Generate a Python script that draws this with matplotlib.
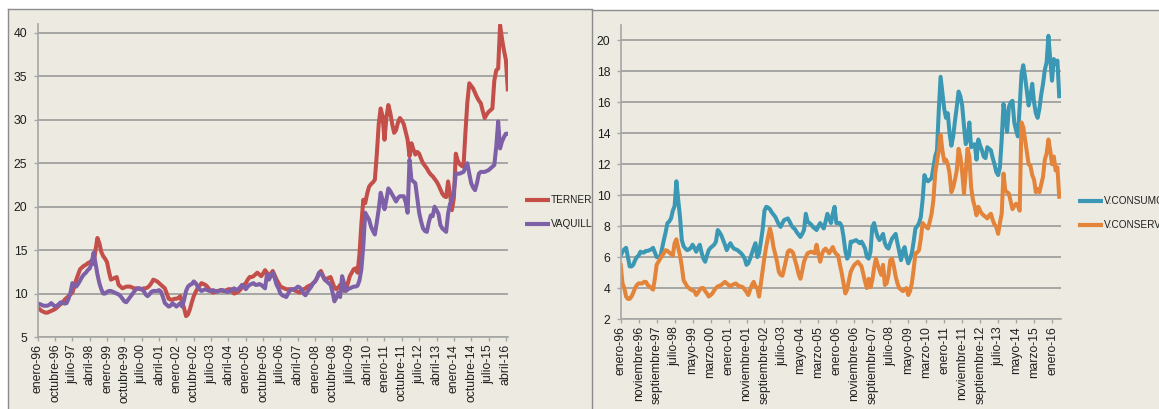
import numpy as np
import matplotlib.pyplot as plt
from matplotlib.lines import Line2D

# monthly prices, enero-96 .. mayo-16 (one row per year)
ternera = [
    8.4, 8.2, 8.0, 7.9, 7.8, 7.8, 7.9, 8.0, 8.1, 8.2, 8.4, 8.6,
    8.8, 9.0, 9.3, 9.5, 9.7, 9.9, 10.1, 10.8, 11.6, 12.2, 12.8, 13.0,
    13.2, 13.3, 13.5, 13.6, 13.8, 13.4, 15.0, 16.4, 15.8, 14.8, 14.3, 14.0,
    13.6, 12.5, 11.6, 11.7, 11.8, 11.9, 11.0, 10.8, 10.6, 10.7, 10.8, 10.8,
    10.8, 10.7, 10.6, 10.6, 10.6, 10.5, 10.5, 10.6, 10.6, 10.7, 10.9, 11.2,
    11.6, 11.5, 11.4, 11.2, 11.0, 10.8, 10.6, 10.0, 9.4, 9.3, 9.3, 9.4,
    9.4, 9.5, 9.7, 9.0, 8.3, 7.4, 7.6, 8.2, 9.0, 9.7, 10.2, 10.6,
    10.9, 11.2, 11.1, 11.0, 10.8, 10.5, 10.3, 10.1, 10.2, 10.3, 10.3, 10.4,
    10.3, 10.3, 10.4, 10.5, 10.5, 10.2, 10.0, 10.1, 10.2, 10.4, 10.7, 11.0,
    11.2, 11.6, 11.9, 11.9, 12.0, 12.2, 12.4, 12.2, 12.0, 12.3, 12.7, 12.4,
    12.0, 12.3, 12.6, 12.1, 11.6, 11.2, 10.8, 10.7, 10.6, 10.5, 10.5, 10.5,
    10.5, 10.4, 10.3, 10.2, 10.1, 10.3, 10.5, 10.6, 10.8, 10.9, 11.0, 11.2,
    11.4, 11.8, 12.3, 12.6, 12.1, 11.6, 11.7, 11.8, 11.9, 11.3, 10.7, 10.5,
    10.7, 11.0, 10.6, 10.3, 10.5, 11.2, 12.0, 12.4, 12.8, 12.9, 12.4, 14.5,
    18.0, 20.8, 20.4, 21.5, 22.3, 22.6, 22.8, 23.1, 26.0, 29.5, 31.3, 30.4,
    27.7, 30.3, 31.7, 30.8, 29.5, 28.5, 28.8, 29.7, 30.2, 29.9, 29.5, 28.6,
    27.7, 25.8, 27.3, 26.6, 26.0, 26.3, 26.1, 25.5, 25.0, 24.7, 24.4, 24.0,
    23.7, 23.5, 23.2, 22.9, 22.5, 22.0, 21.5, 21.2, 21.1, 22.9, 21.5, 19.6,
    21.0, 26.1, 25.3, 24.9, 24.7, 24.6, 28.5, 32.0, 34.2, 33.9, 33.6, 33.1,
    32.6, 32.2, 31.9, 31.0, 30.2, 30.6, 30.9, 31.1, 31.3, 34.5, 35.7, 35.9,
    40.9, 39.3, 38.0, 36.9, 33.5,
]
vaquilla = [
    8.85, 8.8, 8.7, 8.6, 8.6, 8.6, 8.7, 8.9, 8.7, 8.5, 8.6, 8.8,
    9.0, 8.9, 8.85, 8.9, 9.4, 10.1, 11.2, 11.0, 10.8, 11.1, 11.5, 11.9,
    12.2, 12.4, 12.7, 12.9, 13.5, 14.7, 13.5, 12.2, 11.2, 10.5, 10.0, 10.0,
    10.2, 10.3, 10.3, 10.2, 10.1, 10.0, 9.9, 9.7, 9.4, 9.1, 9.0, 9.3,
    9.6, 9.9, 10.2, 10.5, 10.6, 10.6, 10.5, 10.3, 9.9, 9.7, 9.9, 10.2,
    10.3, 10.3, 10.3, 10.4, 10.2, 9.6, 8.9, 8.7, 8.5, 8.6, 8.9, 8.7,
    8.5, 8.7, 8.9, 8.5, 9.3, 10.3, 10.8, 11.0, 11.1, 11.4, 11.2, 10.8,
    10.5, 10.3, 10.4, 10.5, 10.4, 10.3, 10.3, 10.4, 10.3, 10.2, 10.3, 10.4,
    10.4, 10.3, 10.2, 10.2, 10.3, 10.5, 10.6, 10.4, 10.5, 10.7, 11.0, 10.8,
    10.5, 10.8, 11.0, 11.1, 11.2, 11.0, 11.0, 11.1, 11.0, 10.8, 10.6, 12.2,
    11.6, 12.0, 12.4, 11.8, 11.0, 10.6, 10.0, 9.8, 9.7, 9.6, 10.0, 10.4,
    10.5, 10.5, 10.6, 10.8, 10.7, 10.4, 10.0, 9.8, 10.2, 10.5, 10.8, 11.2,
    11.4, 11.8, 12.4, 12.3, 12.0, 11.6, 11.4, 11.2, 11.0, 10.2, 9.1, 9.5,
    10.1, 9.6, 12.0, 11.2, 10.3, 10.5, 10.6, 10.7, 10.8, 10.8, 10.9, 11.5,
    12.8, 15.5, 19.3, 18.9, 18.5, 17.7, 17.2, 16.8, 18.2, 19.7, 21.6, 20.8,
    19.7, 20.8, 22.1, 21.8, 21.4, 21.0, 20.6, 21.0, 21.2, 21.2, 21.2, 20.5,
    19.3, 25.4, 23.1, 22.9, 22.7, 21.0, 19.3, 18.3, 17.5, 17.2, 17.1, 18.2,
    19.0, 18.9, 20.0, 19.6, 19.2, 17.9, 17.5, 17.3, 17.1, 19.2, 20.3, 20.8,
    21.7, 23.8, 23.8, 23.8, 23.9, 24.0, 24.5, 25.0, 23.8, 22.7, 22.2, 21.9,
    22.7, 23.8, 24.0, 24.0, 24.0, 24.1, 24.2, 24.4, 24.6, 24.8, 26.9, 29.8,
    26.7, 27.5, 28.0, 28.4, 28.4,
]
v_consumo = [
    6.1, 6.35, 6.5, 6.6, 6.0, 5.4, 5.4, 5.5, 5.8, 6.0, 6.1, 6.35,
    6.3, 6.3, 6.4, 6.4, 6.45, 6.5, 6.6, 6.3, 6.0, 6.0, 6.0, 6.55,
    7.1, 7.6, 8.2, 8.3, 8.5, 9.0, 9.3, 10.9, 9.7, 8.6, 7.1, 6.7,
    6.55, 6.45, 6.5, 6.6, 6.8, 6.6, 6.35, 6.6, 6.8, 6.3, 5.9, 5.7,
    6.1, 6.45, 6.6, 6.7, 6.8, 7.0, 7.75, 7.6, 7.4, 7.1, 6.8, 6.45,
    6.7, 6.9, 6.7, 6.55, 6.5, 6.45, 6.35, 6.25, 6.1, 5.9, 5.5, 5.6,
    5.9, 6.25, 6.6, 6.9, 6.0, 6.25, 7.0, 7.8, 9.0, 9.25, 9.2, 9.1,
    8.9, 8.75, 8.6, 8.35, 8.1, 7.95, 8.2, 8.4, 8.45, 8.5, 8.3, 8.05,
    7.9, 7.8, 7.6, 7.45, 7.3, 7.5, 7.75, 8.8, 8.3, 8.2, 8.1, 7.95,
    7.85, 7.75, 8.0, 8.2, 8.0, 7.85, 8.3, 8.8, 8.5, 8.2, 8.8, 9.25,
    8.2, 8.2, 8.2, 8.0, 7.3, 6.4, 5.9, 6.1, 7.0, 7.0, 7.05, 7.1,
    7.0, 6.9, 7.0, 6.8, 6.55, 6.0, 5.9, 6.35, 7.95, 8.2, 7.7, 7.3,
    7.1, 7.3, 7.5, 6.9, 6.65, 6.55, 6.9, 7.2, 7.35, 7.5, 6.9, 6.35,
    5.8, 6.4, 6.65, 6.0, 5.6, 5.9, 6.25, 7.0, 7.85, 8.0, 8.2, 8.6,
    9.7, 11.3, 11.0, 10.9, 11.0, 11.1, 11.8, 12.5, 12.9, 15.5, 17.65, 16.6,
    15.6, 15.0, 15.3, 14.0, 13.2, 13.8, 14.8, 15.7, 16.7, 16.4, 15.8, 14.5,
    13.3, 13.6, 14.7, 13.1, 13.2, 13.3, 12.3, 13.6, 13.2, 12.9, 12.5, 12.4,
    13.1, 13.0, 12.9, 12.4, 12.0, 11.5, 11.3, 11.8, 13.6, 15.9, 15.1, 14.1,
    15.7, 16.0, 16.1, 14.7, 14.2, 13.8, 15.7, 17.8, 18.4, 17.65, 16.7, 15.8,
    16.4, 17.2, 16.0, 15.3, 15.0, 15.6, 16.5, 17.2, 18.1, 18.6, 20.3, 18.8,
    17.4, 18.8, 18.5, 18.7, 16.4,
]
v_conserva = [
    5.5, 4.3, 4.0, 3.45, 3.3, 3.3, 3.45, 3.7, 4.0, 4.2, 4.3, 4.3,
    4.3, 4.4, 4.4, 4.2, 4.1, 4.0, 3.9, 4.6, 5.5, 5.7, 5.9, 6.1,
    6.25, 6.45, 6.4, 6.3, 6.2, 6.1, 6.9, 7.15, 6.6, 6.1, 5.4, 4.5,
    4.3, 4.1, 4.0, 3.9, 3.85, 3.8, 3.55, 3.7, 3.9, 4.0, 4.0, 3.8,
    3.65, 3.45, 3.55, 3.65, 3.85, 4.0, 4.1, 4.15, 4.2, 4.3, 4.4, 4.3,
    4.2, 4.1, 4.2, 4.25, 4.3, 4.2, 4.1, 4.1, 4.05, 3.9, 3.75, 3.55,
    3.9, 4.2, 4.4, 4.1, 4.0, 3.45, 4.3, 5.15, 6.0, 6.7, 7.3, 7.85,
    7.4, 6.65, 6.2, 5.7, 5.05, 4.85, 4.8, 5.3, 5.8, 6.35, 6.45, 6.4,
    6.25, 5.8, 5.4, 4.9, 4.6, 5.1, 5.7, 6.0, 6.25, 6.3, 6.35, 6.3,
    6.25, 6.8, 6.2, 5.7, 6.2, 6.45, 6.55, 6.4, 6.25, 6.45, 6.65, 6.35,
    6.2, 6.1, 5.5, 4.95, 4.3, 3.65, 3.9, 4.5, 5.05, 5.3, 5.5, 5.6,
    5.7, 5.55, 5.4, 4.9, 4.4, 4.0, 4.6, 4.05, 4.5, 5.3, 5.9, 5.5,
    5.15, 4.85, 5.5, 4.2, 4.3, 4.85, 5.8, 5.9, 5.4, 4.75, 4.3, 4.0,
    3.9, 3.8, 3.9, 4.0, 3.55, 3.8, 4.3, 5.2, 6.25, 6.3, 6.45, 7.2,
    8.2, 8.05, 7.95, 7.85, 8.3, 8.8, 9.7, 11.4, 12.2, 12.9, 13.9, 12.9,
    12.2, 12.3, 12.0, 11.4, 10.2, 10.5, 11.0, 11.6, 13.0, 12.5, 11.5, 10.1,
    11.5, 13.0, 12.5, 10.5, 9.7, 9.25, 8.7, 9.25, 9.0, 8.8, 8.7, 8.6,
    8.5, 8.7, 8.8, 8.4, 8.1, 7.95, 7.5, 8.2, 8.8, 11.4, 10.3, 10.2,
    10.1, 9.6, 9.1, 9.3, 9.45, 9.3, 9.0, 14.7, 14.4, 13.6, 12.8, 12.0,
    11.9, 11.3, 11.0, 10.2, 10.4, 10.2, 10.7, 11.2, 12.3, 12.7, 13.6, 12.9,
    12.0, 12.5, 11.6, 11.8, 9.9,
]

# category labels shown on the x axes (every 9th / 10th month)
labels_left = [
    'enero-96', 'octubre-96', 'julio-97', 'abril-98', 'enero-99', 'octubre-99',
    'julio-00', 'abril-01', 'enero-02', 'octubre-02', 'julio-03', 'abril-04',
    'enero-05', 'octubre-05', 'julio-06', 'abril-07', 'enero-08', 'octubre-08',
    'julio-09', 'abril-10', 'enero-11', 'octubre-11', 'julio-12', 'abril-13',
    'enero-14', 'octubre-14', 'julio-15', 'abril-16',
]
labels_right = [
    'enero-96', 'noviembre-96', 'septiembre-97', 'julio-98', 'mayo-99',
    'marzo-00', 'enero-01', 'noviembre-01', 'septiembre-02', 'julio-03',
    'mayo-04', 'marzo-05', 'enero-06', 'noviembre-06', 'septiembre-07',
    'julio-08', 'mayo-09', 'marzo-10', 'enero-11', 'noviembre-11',
    'septiembre-12', 'julio-13', 'mayo-14', 'marzo-15', 'enero-16',
]

W, H = 1159, 409
BG = '#EDEBE1'
GRID = '#9A9A9A'
TXT = '#1E1E1E'

plt.rcParams['font.family'] = ['Liberation Sans', 'DejaVu Sans']

fig = plt.figure(figsize=(W / 100, H / 100), dpi=100)
fig.patch.set_facecolor('white')


def rect(x0, y0, x1, y1):
    # pixel box with top-left origin -> [left, bottom, width, height]
    return [x0 / W, 1 - y1 / H, (x1 - x0) / W, (y1 - y0) / H]


def panel(x0, y0, x1):
    ax = fig.add_axes(rect(x0, y0, x1, H + 30))
    ax.set_facecolor(BG)
    ax.set_xticks([])
    ax.set_yticks([])
    for s in ('right', 'bottom'):
        ax.spines[s].set_visible(False)
    for s in ('top', 'left'):
        ax.spines[s].set_color('#8C8C8C')
        ax.spines[s].set_linewidth(1.0)
    return ax


def chart(box, ylim, yticks, labels, step, xmax):
    ax = fig.add_axes(rect(*box))
    ax.set_facecolor('none')
    ax.set_xlim(0, xmax)
    ax.set_ylim(*ylim)
    ax.set_yticks(yticks)
    ax.set_xticks(np.arange(len(labels)) * step)
    ax.set_xticklabels(labels, rotation=90, ha='center', va='top')
    ax.grid(axis='y', color=GRID, lw=1.2)
    ax.set_axisbelow(True)
    for s in ('top', 'right'):
        ax.spines[s].set_visible(False)
    for s in ('left', 'bottom'):
        ax.spines[s].set_color('#A6A6A6')
        ax.spines[s].set_linewidth(1.2)
    ax.tick_params(axis='both', colors='#A6A6A6', labelcolor=TXT,
                   labelsize=8.8, length=3, width=1)
    ax.tick_params(axis='x', pad=2)
    ax.tick_params(axis='y', pad=4.5)
    return ax


def legend(bg, x, y, entries):
    # legend drawn inside the panel, clipped at the panel edge like the source
    for k, (color, text) in enumerate(entries):
        yy = 1 - (y + k * 23.5) / H
        ln = Line2D([x / W, (x + 25) / W], [yy, yy], transform=fig.transFigure,
                    color=color, lw=3.0, solid_capstyle='butt')
        bg.add_artist(ln)
        t = bg.text((x + 26) / W, yy, text, transform=fig.transFigure,
                    fontsize=7.2, color=TXT, va='center', ha='left')
        t.set_clip_path(bg.patch)


bg_l = panel(8, 9, 592)
bg_r = panel(592, 10, W + 30)

x = np.arange(len(ternera))

ax1 = chart((37.7, 24.2, 507.8, 337), (5, 41), range(5, 41, 5),
            labels_left, 9, len(ternera) - 1)
ax1.plot(x, ternera, color='#C44E4A', lw=2.9, solid_joinstyle='round')
ax1.plot(x, vaquilla, color='#7E60A8', lw=2.9, solid_joinstyle='round')

ax2 = chart((620.7, 25, 1061, 319), (2, 21), range(2, 21, 2),
            labels_right, 10, len(v_consumo))
ax2.plot(x, v_consumo, color='#3B98B4', lw=2.9, solid_joinstyle='round')
ax2.plot(x, v_conserva, color='#E3843A', lw=2.9, solid_joinstyle='round')

legend(bg_l, 525, 200, [('#C44E4A', 'TERNERA'), ('#7E60A8', 'VAQUILLA')])
legend(bg_r, 1078, 201, [('#3B98B4', 'V.CONSUMO'), ('#E3843A', 'V.CONSERVA')])

fig.savefig('out.png', dpi=100, facecolor=fig.get_facecolor())
